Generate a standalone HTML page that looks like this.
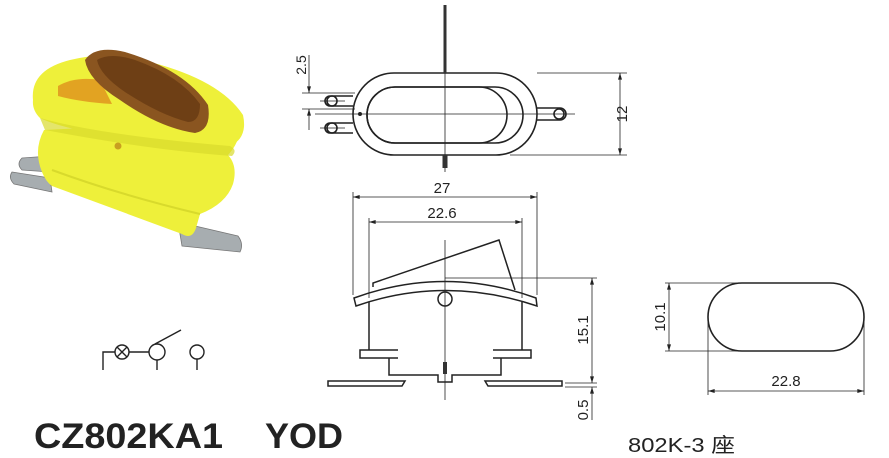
<!DOCTYPE html>
<html><head><meta charset="utf-8"><style>
html,body{margin:0;padding:0;background:#fff;}
svg{display:block;}
text{font-family:"Liberation Sans","Noto Sans CJK SC",sans-serif;fill:#222;}
</style></head><body>
<svg width="889" height="458" viewBox="0 0 889 458" xmlns="http://www.w3.org/2000/svg">
<defs>
<marker id="a" viewBox="0 0 10 6" refX="10" refY="3" markerWidth="10" markerHeight="4" orient="auto-start-reverse" markerUnits="userSpaceOnUse"><path d="M0,0L10,3L0,6z" fill="#222"/></marker>
</defs>
<!-- photo -->
<g>
<path d="M22,158 L50,156 L50,172 L22,170 Q16,164 22,158 Z" fill="#a7adb0" stroke="#777" stroke-width="0.8"/>
<path d="M12,172 L50,178 L52,192 L14,184 Q8,178 12,172 Z" fill="#a7adb0" stroke="#777" stroke-width="0.8"/>
<path d="M178,222 L238,236 Q244,244 240,252 L182,246 Z" fill="#a7adb0" stroke="#777" stroke-width="0.8"/>
<path d="M44,130 Q33,150 42,172 Q46,182 52,186 L182,234 Q192,240 196,228 L200,214 Q226,204 233,184 Q238,166 228,155 Q242,140 240,120 Z" fill="#eef03a"/>
<path d="M33,100 Q30,70 70,60 Q110,50 150,62 Q220,80 243,115 Q248,138 230,146 Q180,150 120,138 Q60,128 40,118 Q32,110 33,100 Z" fill="#eef03a"/>
<path d="M40,118 Q100,135 230,146 Q238,150 232,156 Q150,150 45,130 Z" fill="#d8da2c" opacity="0.7"/>
<path d="M52,170 Q120,195 200,214" fill="none" stroke="#d8da2c" stroke-width="2"/>
<path d="M58,86 Q75,76 100,80 L112,104 Q80,102 58,96 Z" fill="#e2a322"/>
<path d="M85,60 Q95,45 125,52 Q185,70 208,105 Q212,130 195,133 Q160,128 120,100 Q88,80 85,60 Z" fill="#8a5520"/>
<path d="M97,60 Q110,52 135,60 Q180,76 200,104 Q200,122 188,122 Q160,115 125,92 Q100,75 97,60 Z" fill="#6e3f15"/>
<circle cx="118" cy="146" r="3.5" fill="#c9a020"/>
</g>
<g fill="none" stroke="#222" stroke-width="1.6">
<rect x="353" y="73" width="184" height="82" rx="41"/>
<rect x="367" y="87" width="156" height="56" rx="28"/>
<rect x="367" y="87" width="140" height="56" rx="28"/>
<path d="M353,96 H330 a5,5 0 0 0 0,10 H353 M353,123 H330 a5,5 0 0 0 0,10 H353 M537,108 H560 a6,6 0 0 1 0,12 H537"/>
<circle cx="332" cy="101" r="5"/><circle cx="332" cy="128" r="5"/><circle cx="559" cy="114" r="5"/>
</g>
<g stroke="#222" stroke-width="0.8" fill="none">
<line x1="445" y1="5" x2="445" y2="172"/>
<line x1="315" y1="114" x2="575" y2="114"/>
<line x1="320" y1="101" x2="345" y2="101"/><line x1="320" y1="128" x2="345" y2="128"/>
<line x1="537" y1="73" x2="627" y2="73"/><line x1="510" y1="155" x2="627" y2="155"/>
<line x1="620" y1="73" x2="620" y2="155" marker-start="url(#a)" marker-end="url(#a)"/>
<line x1="302" y1="93" x2="355" y2="93"/><line x1="302" y1="109" x2="355" y2="109"/>
<line x1="309" y1="55" x2="309" y2="93" marker-end="url(#a)"/>
<line x1="309" y1="130" x2="309" y2="109" marker-end="url(#a)"/>
</g>
<rect x="443.5" y="5" width="3" height="68" fill="#333"/>
<rect x="442.5" y="155" width="5" height="13" fill="#333"/>
<circle cx="360" cy="114" r="2" fill="#222"/>
<text transform="translate(306,65) rotate(-90)" font-size="14" text-anchor="middle">2.5</text>
<text transform="translate(627,114) rotate(-90)" font-size="15" text-anchor="middle">12</text>
<g stroke="#222" stroke-width="0.8" fill="none">
<line x1="353" y1="192" x2="353" y2="295"/><line x1="537" y1="192" x2="537" y2="295"/>
<line x1="353" y1="197" x2="537" y2="197" marker-start="url(#a)" marker-end="url(#a)"/>
<line x1="369" y1="218" x2="369" y2="298"/><line x1="522" y1="218" x2="522" y2="298"/>
<line x1="369" y1="222" x2="522" y2="222" marker-start="url(#a)" marker-end="url(#a)"/>
<line x1="445" y1="240" x2="445" y2="400"/>
<line x1="445" y1="278" x2="597" y2="278"/><line x1="565" y1="383" x2="597" y2="383"/><line x1="565" y1="387" x2="597" y2="387"/>
<line x1="592" y1="278" x2="592" y2="383" marker-start="url(#a)" marker-end="url(#a)"/>
<line x1="592" y1="420" x2="592" y2="387" marker-end="url(#a)"/>
</g>
<text x="442" y="193" font-size="15" text-anchor="middle">27</text>
<text x="442" y="218" font-size="15" text-anchor="middle">22.6</text>
<text transform="translate(588,330) rotate(-90)" font-size="15" text-anchor="middle">15.1</text>
<text transform="translate(588,410) rotate(-90)" font-size="15" text-anchor="middle">0.5</text>
<g fill="none" stroke="#222" stroke-width="1.5">
<path d="M354,298 Q445,265 536,298 L537,306 Q445,275 356,306 Z"/>
<path d="M373,287 L373,283 L499,240 L515,290"/>
<circle cx="445" cy="299" r="7"/>
<path d="M369,302 V350 M522,302 V350"/>
<path d="M398,350 H360 V358 H398 M493,350 H531 V358 H493"/>
<path d="M389,358 V375 H438 V382 H452 V375 H501 V358"/>
<path d="M405,381 H328 V386 H402 Z M485,381 H562 V386 H488 Z"/>
</g>
<rect x="443" y="362" width="4" height="12" fill="#333"/>
<rect x="708" y="283" width="156" height="68" rx="34" fill="none" stroke="#222" stroke-width="1.6"/>
<g stroke="#222" stroke-width="0.8" fill="none">
<line x1="665" y1="283" x2="740" y2="283"/><line x1="665" y1="351" x2="740" y2="351"/>
<line x1="669" y1="283" x2="669" y2="351" marker-start="url(#a)" marker-end="url(#a)"/>
<line x1="708" y1="317" x2="708" y2="395"/><line x1="864" y1="317" x2="864" y2="395"/>
<line x1="708" y1="391" x2="864" y2="391" marker-start="url(#a)" marker-end="url(#a)"/>
</g>
<text transform="translate(665,317) rotate(-90)" font-size="15" text-anchor="middle">10.1</text>
<text x="786" y="386" font-size="15" text-anchor="middle">22.8</text>
<g fill="none" stroke="#222" stroke-width="1.4">
<path d="M103,370 V352 H115"/>
<circle cx="122" cy="352" r="7"/>
<path d="M117,347 L127,357 M127,347 L117,357"/>
<line x1="129" y1="352" x2="149" y2="352"/>
<circle cx="157" cy="352" r="8"/>
<line x1="155" y1="344" x2="181" y2="330"/>
<line x1="157" y1="360" x2="157" y2="370"/>
<circle cx="197" cy="352" r="7"/>
<line x1="197" y1="359" x2="197" y2="370"/>
</g>
<text x="34" y="448" font-size="35" font-weight="bold" textLength="189" lengthAdjust="spacingAndGlyphs">CZ802KA1</text>
<text x="265" y="448" font-size="35" font-weight="bold" textLength="78" lengthAdjust="spacingAndGlyphs">YOD</text>
<text x="628" y="452" font-size="20" textLength="107" lengthAdjust="spacingAndGlyphs">802K-3 座</text>
</svg>
</body></html>
